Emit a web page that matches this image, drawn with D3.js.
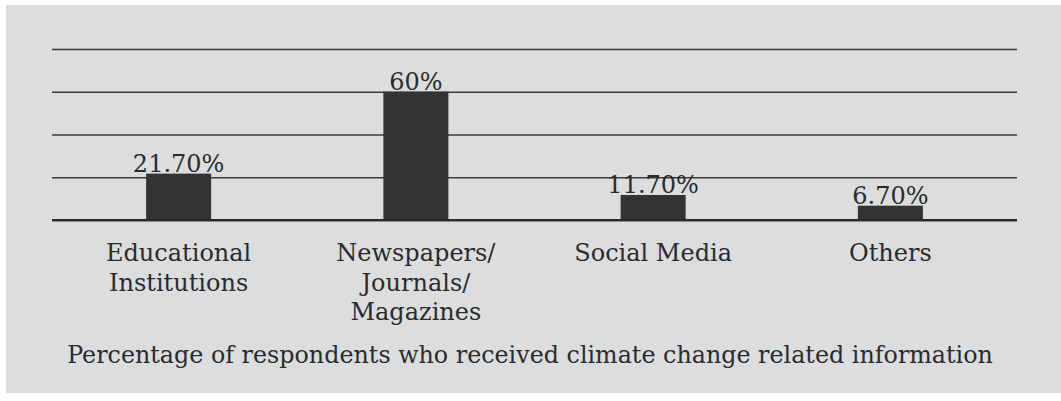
<!DOCTYPE html>
<html>
<head>
<meta charset="utf-8">
<script src="https://cdn.jsdelivr.net/npm/d3@7"></script>
<style>
  html, body { margin: 0; padding: 0; background: #ffffff; }
  svg { display: block; }
  text { font-family: "DejaVu Serif", serif; fill: #2b2b2b; }
</style>
</head>
<body>
<svg id="chart" width="1061" height="401"></svg>
<script>
const categories = [
  ["Educational", "Institutions"],
  ["Newspapers/", "Journals/", "Magazines"],
  ["Social Media"],
  ["Others"]
];
const values = [21.7, 60, 11.7, 6.7];
const valueLabels = ["21.70%", "60%", "11.70%", "6.70%"];
const gridTicks = [0, 20, 40, 60, 80];
const title = "Percentage of respondents who received climate change related information";

const svg = d3.select("#chart");
const W = 1061, H = 401;

svg.append("rect")
  .attr("x", 6).attr("y", 5)
  .attr("width", W - 6).attr("height", 388)
  .attr("fill", "#dcdddf");

const keys = categories.map((c, i) => i);
const x = d3.scaleBand().domain(keys).range([60, 1009]).paddingInner(0.726).paddingOuter(0.363);
const y = d3.scaleLinear().domain([0, 80]).range([220, 49]);

const gridLeft = 52, gridRight = 1017;

// grid lines via axis
const gAxis = svg.append("g")
  .attr("transform", `translate(${gridLeft},0)`)
  .call(d3.axisLeft(y).tickValues(gridTicks).tickSize(-(gridRight - gridLeft)).tickFormat(""));
gAxis.select(".domain").remove();
gAxis.selectAll(".tick line")
  .attr("stroke", "#3a3a3a")
  .attr("stroke-width", d => d === 0 ? 2.2 : 1.3);

// bars
svg.append("g").selectAll("rect")
  .data(values)
  .join("rect")
  .attr("x", (d, i) => x(i))
  .attr("width", x.bandwidth())
  .attr("y", d => y(d))
  .attr("height", d => y(0) - y(d))
  .attr("fill", "#333333");

// baseline on top
svg.append("line")
  .attr("x1", gridLeft).attr("x2", gridRight)
  .attr("y1", y(0)).attr("y2", y(0))
  .attr("stroke", "#2a2a2a").attr("stroke-width", 2.2);

// value labels
svg.append("g").selectAll("text")
  .data(values)
  .join("text")
  .attr("x", (d, i) => x(i) + x.bandwidth() / 2)
  .attr("y", d => y(d) - 2)
  .attr("text-anchor", "middle")
  .attr("font-size", 24)
  .text((d, i) => valueLabels[i]);

// category labels
const catG = svg.append("g").selectAll("text")
  .data(categories)
  .join("text")
  .attr("x", (d, i) => x(i) + x.bandwidth() / 2)
  .attr("y", 261)
  .attr("text-anchor", "middle")
  .attr("font-size", 24);
catG.selectAll("tspan")
  .data(d => d)
  .join("tspan")
  .attr("x", function() { return d3.select(this.parentNode).attr("x"); })
  .attr("dy", (d, j) => j === 0 ? 0 : 29.5)
  .text(d => d);

// title
svg.append("text")
  .attr("x", 530)
  .attr("y", 363)
  .attr("text-anchor", "middle")
  .attr("font-size", 23.8)
  .text(title);
</script>
</body>
</html>
